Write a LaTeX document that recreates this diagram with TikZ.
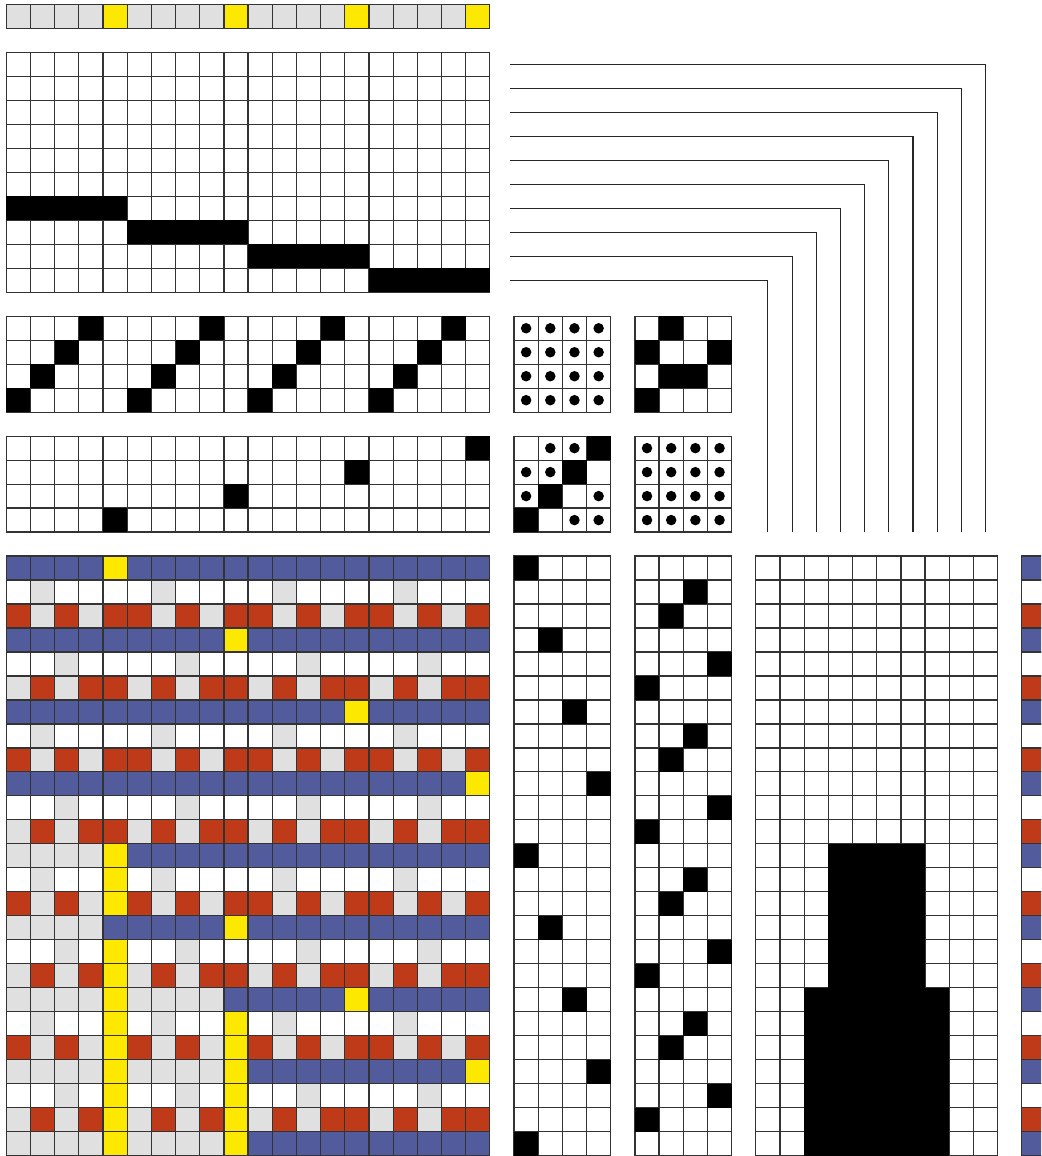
\documentclass[tikz,border=0pt]{standalone}
\definecolor{cb}{RGB}{82,92,156}
\definecolor{cr}{RGB}{190,58,24}
\definecolor{cg}{RGB}{224,224,224}
\definecolor{cw}{RGB}{255,255,255}
\definecolor{cy}{RGB}{252,232,0}
\begin{document}
\begin{tikzpicture}[x=0.484cm, y=-0.48cm,
    cell/.style={draw=black!80, line width=0.7pt},
    thread/.style={draw=black!85, line width=0.65pt}]
  \useasboundingbox (-0.26,-0.19) rectangle (42.8,48.02);
  \clip (-0.26,-0.19) rectangle (42.8,48.02);

  % ---- warp colours ----
  \foreach \c in {0,...,19} \draw[cell, fill=cg] (\c,0) rectangle ++(1,1);
  \foreach \c in {4,9,14,19} \draw[cell, fill=cy] (\c,0) rectangle ++(1,1);

  % ---- threading: ten shafts ----
  \foreach \r in {2,...,11} \foreach \c in {0,...,19}
    \draw[cell] (\c,\r) rectangle ++(1,1);
  \foreach \k in {0,...,3} \fill (5*\k,8+\k) rectangle ++(5,1);

  % ---- the two four-shaft blocks ----
  \foreach \r in {13,...,16,18,19,20,21} \foreach \c in {0,...,19}
    \draw[cell] (\c,\r) rectangle ++(1,1);
  \foreach \k in {0,...,3} \foreach \m in {0,...,3}
    \fill (3-\k+5*\m,13+\k) rectangle ++(1,1);
  \foreach \k in {0,...,3} \fill (19-5*\k,18+\k) rectangle ++(1,1);

  % ---- tie-ups ----
  \foreach \x in {21,26} \foreach \y in {13,18}
    \foreach \c in {0,...,3} \foreach \r in {0,...,3}
      \draw[cell] (\x+\c,\y+\r) rectangle ++(1,1);
  \foreach \c in {0,...,3} \foreach \r in {0,...,3} {
    \fill (21.5+\c,13.5+\r) circle (0.105cm);
    \fill (26.5+\c,18.5+\r) circle (0.105cm);
  }
  \foreach \p in {(27,13),(26,14),(29,14),(27,15),(28,15),(26,16),
                  (24,18),(23,19),(22,20),(21,21)}
    \fill \p rectangle ++(1,1);
  \foreach \p in {(22,18),(23,18),(21,19),(22,19),(21,20),(24,20),(23,21),(24,21)}
    \fill \p ++(0.5,0.5) circle (0.105cm);

  % ---- shaft lines running out to the profile ----
  \foreach \k in {0,...,9}
    \draw[thread] (20.85,2.5+\k) -| (40.5-\k,22);

  % ---- treadlings ----
  \foreach \x in {21,26} \foreach \c in {0,...,3} \foreach \r in {23,...,47}
    \draw[cell] (\x+\c,\r) rectangle ++(1,1);
  \foreach \p in {(21,23),(22,26),(23,29),(24,32),(21,35),(22,38),(23,41),(24,44),(21,47)}
    \fill \p rectangle ++(1,1);
  \foreach \m in {0,...,3} {
    \fill (28,24+6*\m) rectangle ++(1,1);
    \fill (27,25+6*\m) rectangle ++(1,1);
    \fill (29,27+6*\m) rectangle ++(1,1);
    \fill (26,28+6*\m) rectangle ++(1,1);
  }

  % ---- profile ----
  \foreach \c in {31,...,40} \foreach \r in {23,...,47}
    \draw[cell] (\c,\r) rectangle ++(1,1);
  \fill (34,35) rectangle (38,41);
  \fill (33,41) rectangle (39,48);

  % ---- weft colours ----
  \foreach \r [evaluate=\r as \k using {int(mod(\r-23,3))}] in {23,...,47} {
    \ifcase\k \def\wc{cb}\or \def\wc{cw}\or \def\wc{cr}\fi
    \draw[cell, fill=\wc] (42,\r) rectangle ++(1,1);
  }

  % ---- drawdown ----
  \foreach \row [count=\r from 23] in {
      {b,b,b,b,y,b,b,b,b,b,b,b,b,b,b,b,b,b,b,b},
      {w,g,w,w,w,w,g,w,w,w,w,g,w,w,w,w,g,w,w,w},
      {r,g,r,g,r,r,g,r,g,r,r,g,r,g,r,r,g,r,g,r},
      {b,b,b,b,b,b,b,b,b,y,b,b,b,b,b,b,b,b,b,b},
      {w,w,g,w,w,w,w,g,w,w,w,w,g,w,w,w,w,g,w,w},
      {g,r,g,r,r,g,r,g,r,r,g,r,g,r,r,g,r,g,r,r},
      {b,b,b,b,b,b,b,b,b,b,b,b,b,b,y,b,b,b,b,b},
      {w,g,w,w,w,w,g,w,w,w,w,g,w,w,w,w,g,w,w,w},
      {r,g,r,g,r,r,g,r,g,r,r,g,r,g,r,r,g,r,g,r},
      {b,b,b,b,b,b,b,b,b,b,b,b,b,b,b,b,b,b,b,y},
      {w,w,g,w,w,w,w,g,w,w,w,w,g,w,w,w,w,g,w,w},
      {g,r,g,r,r,g,r,g,r,r,g,r,g,r,r,g,r,g,r,r},
      {g,g,g,g,y,b,b,b,b,b,b,b,b,b,b,b,b,b,b,b},
      {w,g,w,w,y,w,g,w,w,w,w,g,w,w,w,w,g,w,w,w},
      {r,g,r,g,y,r,g,r,g,r,r,g,r,g,r,r,g,r,g,r},
      {g,g,g,g,b,b,b,b,b,y,b,b,b,b,b,b,b,b,b,b},
      {w,w,g,w,y,w,w,g,w,w,w,w,g,w,w,w,w,g,w,w},
      {g,r,g,r,y,g,r,g,r,r,g,r,g,r,r,g,r,g,r,r},
      {g,g,g,g,y,g,g,g,g,b,b,b,b,b,y,b,b,b,b,b},
      {w,g,w,w,y,w,g,w,w,y,w,g,w,w,w,w,g,w,w,w},
      {r,g,r,g,y,r,g,r,g,y,r,g,r,g,r,r,g,r,g,r},
      {g,g,g,g,y,g,g,g,g,y,b,b,b,b,b,b,b,b,b,y},
      {w,w,g,w,y,w,w,g,w,y,w,w,g,w,w,w,w,g,w,w},
      {g,r,g,r,y,g,r,g,r,y,g,r,g,r,r,g,r,g,r,r},
      {g,g,g,g,y,g,g,g,g,y,b,b,b,b,b,b,b,b,b,b}}
    \foreach \c [count=\i from 0] in \row
      \draw[cell, fill=c\c] (\i,\r) rectangle ++(1,1);
\end{tikzpicture}
\end{document}
